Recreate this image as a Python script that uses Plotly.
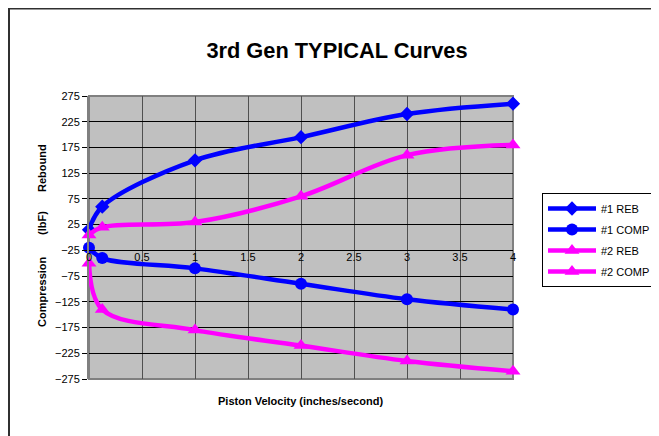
import plotly.graph_objects as go

velocity = [0, 0.125, 1, 2, 3, 4]
reb1 = [15, 60, 150, 195, 240, 260]
comp1 = [-20, -40, -60, -90, -120, -140]
reb2 = [5, 20, 30, 80, 160, 180]
comp2 = [-50, -140, -180, -210, -240, -260]

y_ticks = [275, 225, 175, 125, 75, 25, -25, -75, -125, -175, -225, -275]
x_ticks = [0, 0.5, 1, 1.5, 2, 2.5, 3, 3.5, 4]
x_tick_text = ["0", "0.5", "1", "1.5", "2", "2.5", "3", "3.5", "4"]

BLUE = "#0000FF"
MAG = "#FF00FF"
FONT = "Liberation Sans, Arial, sans-serif"

series = [
    ("#1 REB", reb1, BLUE, "diamond", 11),
    ("#1 COMP", comp1, BLUE, "circle", 12),
    ("#2 REB", reb2, MAG, "triangle-up", 13),
    ("#2 COMP", comp2, MAG, "triangle-up", 13),
]

fig = go.Figure()
for i, (name, vals, col, sym, sz) in enumerate(series):
    fig.add_trace(go.Scatter(
        x=velocity, y=vals, name=name, mode="lines+markers",
        line=dict(color=col, width=4.5, shape="spline", smoothing=1),
        marker=dict(color=col, symbol=sym, size=sz),
        cliponaxis=False, legendgroup="g%d" % i,
    ))

OFF = 8  # page body margin
# plot area in screen pixels
SX0, SX1, SY0, SY1 = 89, 513, 96, 379
W, H = 659 - OFF, 436 - OFF
L, T = SX0 - OFF, SY0 - OFF
R, B = W - (SX1 - OFF), H - (SY1 - OFF)
pw, ph = SX1 - SX0, SY1 - SY0

def px(xs):
    return (xs - SX0) / pw

def py(ys):
    return (SY1 - ys) / ph

fig.update_layout(
    width=W, height=H,
    margin=dict(l=L, r=R, t=T, b=B, pad=0, autoexpand=False),
    paper_bgcolor="white",
    plot_bgcolor="#C0C0C0",
    font=dict(family=FONT, size=11, color="black"),
    title=dict(text="<b>3rd Gen TYPICAL Curves</b>", x=(337 - OFF) / W, xref="container",
               xanchor="center", yref="container", y=1 - (50 - OFF) / H, yanchor="middle",
               font=dict(size=21.8, family=FONT, color="black")),
    showlegend=True,
    legend=dict(x=px(542), y=py(193), xanchor="left", yanchor="top",
                bordercolor="black", borderwidth=1, bgcolor="white",
                font=dict(size=11, family=FONT), itemwidth=48,
                tracegroupgap=2),
    xaxis=dict(range=[0, 4], tickvals=x_ticks, ticktext=x_tick_text,
               showgrid=True, gridcolor="#505050", gridwidth=1,
               zeroline=False, showline=True, linecolor="black", linewidth=1,
               anchor="free", position=(-25 + 275) / 550,
               ticks="outside", ticklen=0, ticklabelstandoff=-4,
               tickfont=dict(size=11, family=FONT),
               mirror=False),
    yaxis=dict(range=[-275, 275], tickvals=y_ticks,
               showgrid=True, gridcolor="black", gridwidth=1,
               zeroline=False, showline=True, linecolor="#808080", linewidth=2,
               ticks="outside", ticklen=5, tickcolor="black",
               tickfont=dict(size=11, family=FONT)),
)

# plot area border
fig.add_shape(type="rect", xref="paper", yref="paper", x0=0, x1=1, y0=0, y1=1,
              line=dict(color="#808080", width=2), layer="below")
# outer chart border
fig.add_shape(type="rect", xref="paper", yref="paper",
              x0=px(9), x1=px(720), y0=py(500), y1=py(8.5),
              line=dict(color="#303030", width=2))

fig.add_annotation(text="<b>Piston Velocity (inches/second)</b>", xref="paper", yref="paper",
                   x=px(300), y=py(401), xanchor="center", yanchor="middle",
                   showarrow=False, font=dict(size=11, family=FONT))
for txt, ys in [("Rebound", 168), ("(lbF)", 223), ("Compression", 292)]:
    fig.add_annotation(text="<b>" + txt + "</b>", xref="paper", yref="paper",
                       x=px(42), y=py(ys), xanchor="center", yanchor="middle",
                       textangle=-90, showarrow=False,
                       font=dict(size=11, family=FONT))

fig.write_html("out.html")
